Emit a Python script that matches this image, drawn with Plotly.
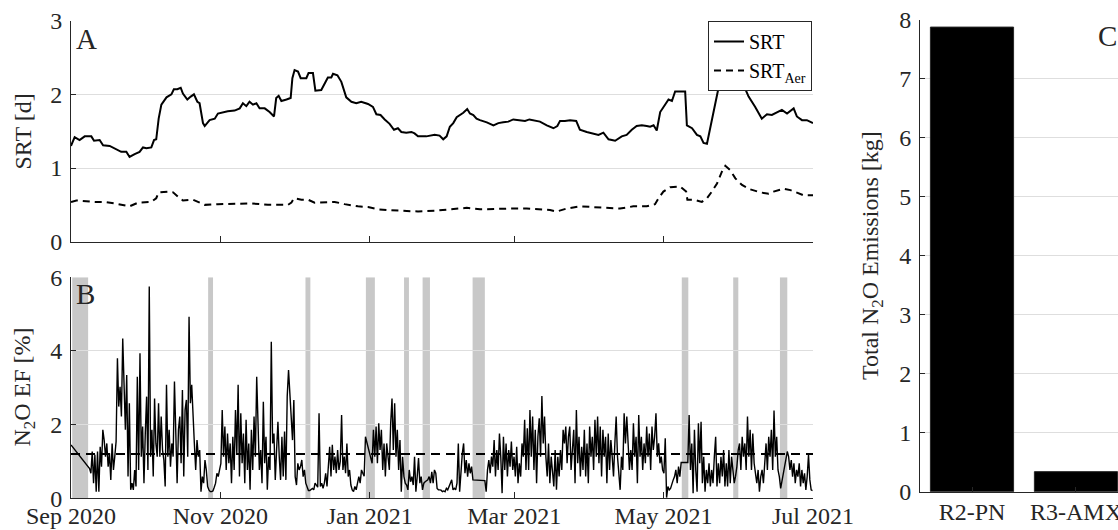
import plotly.graph_objects as go
import pandas as pd

# ---------------- data ----------------
START = "2020-09-01"
END = "2021-07-01"

# Panel A: SRT [d]  (day offset from 1 Sep 2020, value)
srt_points = [
    (0, 1.30), (1.5, 1.42), (3.5, 1.38), (5.6, 1.43), (8.3, 1.43), (9.4, 1.37), (11.7, 1.38), (13.1, 1.31),
    (15.8, 1.30), (18.5, 1.26), (20.5, 1.22), (22.6, 1.22), (23.9, 1.15), (26, 1.19), (28, 1.22), (29.4, 1.28),
    (30.8, 1.27), (32.8, 1.28), (33.9, 1.38), (34.8, 1.39), (35.8, 1.67), (36.9, 1.86), (39, 1.96), (41, 2.00),
    (42, 2.07), (43.4, 2.07), (44.8, 2.09), (45.7, 2.01), (47.5, 1.93), (48.9, 1.97), (50.2, 2.00), (51.6, 1.90),
    (52.5, 1.88), (53.9, 1.61), (54.6, 1.57), (56.6, 1.65), (58.7, 1.67), (60, 1.74), (62, 1.76), (64, 1.77),
    (66.8, 1.78), (68.9, 1.81), (70.2, 1.88), (71.6, 1.84), (72.9, 1.90), (74.3, 1.86), (75.7, 1.88), (77, 1.81),
    (79.1, 1.81), (81.1, 1.76), (82.9, 1.70), (83.8, 1.95), (84.8, 1.98), (85.9, 1.91), (88, 1.93), (89.7, 1.95),
    (90.4, 2.22), (91.3, 2.33), (92.7, 2.31), (93.8, 2.22), (96.1, 2.22), (97, 2.29), (98.8, 2.29), (99.8, 2.05),
    (102.2, 2.06), (103.6, 2.15), (104.9, 2.23), (106.3, 2.23), (107, 2.28), (108.8, 2.26), (110.4, 2.17),
    (112.4, 1.96), (114.5, 1.90), (116.5, 1.88), (118.5, 1.90), (121.3, 1.87), (123.3, 1.83), (124.7, 1.73),
    (126.4, 1.72), (128.1, 1.66), (130.1, 1.60), (131.9, 1.52), (133.5, 1.54), (134.9, 1.49), (136.9, 1.48),
    (139, 1.49), (140.3, 1.47), (141.7, 1.43), (145.1, 1.43), (148.5, 1.45), (150.5, 1.44), (152, 1.39),
    (153.4, 1.43), (154.7, 1.56), (156.1, 1.61), (157.5, 1.69), (158.8, 1.72), (160.2, 1.75), (161.8, 1.80),
    (162.9, 1.74), (164.3, 1.72), (165.6, 1.67), (167, 1.65), (169.8, 1.62), (172.5, 1.58), (174.5, 1.61),
    (176.5, 1.62), (178.6, 1.63), (180.6, 1.66), (183.4, 1.65), (185.4, 1.64), (187.2, 1.66), (189.5, 1.64),
    (191.5, 1.63), (194.3, 1.58), (197, 1.54), (198.6, 1.57), (199.7, 1.64), (201.7, 1.64), (203.8, 1.65),
    (206.3, 1.64), (207.8, 1.52), (210.6, 1.49), (213.3, 1.47), (215.4, 1.45), (217.4, 1.48), (219.5, 1.39),
    (222.2, 1.37), (224.9, 1.43), (226.9, 1.45), (229, 1.52), (231, 1.57), (233.1, 1.58), (235.1, 1.57),
    (236.5, 1.56), (237.9, 1.58), (239.2, 1.51), (240.6, 1.76), (242.2, 1.84), (244, 1.93), (245.4, 1.91),
    (246.7, 2.04), (250.8, 2.04), (251.5, 1.58), (253.6, 1.54), (255.6, 1.45), (257, 1.43), (258.3, 1.34),
    (259.7, 1.33), (261.7, 1.67), (263.8, 2.01), (265, 2.18), (266.5, 2.35), (268, 2.45), (270, 2.42),
    (272, 2.30), (274.6, 2.13), (276.7, 1.97), (279.4, 1.83), (282.1, 1.67), (284.2, 1.73), (286.2, 1.72),
    (288.3, 1.76), (290.3, 1.79), (292.4, 1.74), (295.1, 1.81), (296.4, 1.70), (298.5, 1.65), (300.5, 1.65),
    (303, 1.61),
]

# Panel A: SRT_Aer [d]
aer_points = [
    (0, 0.54), (2.2, 0.56), (9.7, 0.54), (13.8, 0.54), (17.8, 0.52), (20.5, 0.50), (23.9, 0.48), (27.4, 0.53),
    (31.4, 0.53), (32.8, 0.54), (34.8, 0.59), (35.8, 0.67), (39.6, 0.68), (41.7, 0.67), (43.7, 0.61), (45.7, 0.56),
    (49.8, 0.57), (52.5, 0.53), (54.6, 0.50), (60, 0.51), (66.8, 0.51), (73.6, 0.52), (80.4, 0.50), (84.5, 0.50),
    (88.6, 0.50), (90, 0.53), (91, 0.59), (94.1, 0.57), (96.8, 0.57), (99.5, 0.53), (104.9, 0.53), (107.7, 0.54),
    (111.7, 0.51), (117.2, 0.48), (121.3, 0.47), (125.4, 0.44), (129.4, 0.43), (134.9, 0.42), (141.7, 0.41),
    (148.5, 0.42), (152, 0.43), (156.1, 0.44), (161.6, 0.46), (167, 0.44), (173.8, 0.45), (180.6, 0.45),
    (186.1, 0.45), (191.5, 0.44), (195.6, 0.43), (198.3, 0.41), (202.4, 0.45), (207.8, 0.48), (213.3, 0.47),
    (218.7, 0.45), (224.2, 0.45), (229.6, 0.48), (235.1, 0.48), (238.5, 0.51), (239.9, 0.59), (241.9, 0.68),
    (244.7, 0.74), (248.7, 0.75), (251.2, 0.68), (251.7, 0.57), (254.2, 0.57), (257.6, 0.54), (259.7, 0.59),
    (261.7, 0.68), (263.8, 0.79), (265.8, 0.95), (267.2, 1.03), (269.2, 0.97), (271.3, 0.86), (274, 0.77),
    (277.4, 0.71), (281.5, 0.67), (284.9, 0.65), (286.9, 0.68), (291, 0.72), (293.8, 0.70), (296.4, 0.67),
    (299.2, 0.63), (303, 0.63),
]

# Panel B: N2O emission factor [%], one reading every 13 h from 1 Sep 2020 (None = no data)
ef_step_hours = 13
ef_values = (
    [1.45] + [None] * 13 +
    [0.81, 0.68, 1.27, 0.41, 1.18, 0.18, 1.27, 0.18, 1.40, 0.86, 1.86, 1.58, 1.13, 1.49, 0.86, 1.22, 0.50,
     1.49, 0.77, 1.13, 1.54, 3.80, 2.49, 3.03, 2.22, 4.34, 2.67, 1.86, 3.35, 0.59, 2.58, 0.23, 0.41, 0.23,
     0.77, 0.32, 3.30, 0.77, 3.94, 1.13, 1.95, 0.41, 1.76, 2.76, 0.77, 5.75, 1.13, 1.86, 0.59, 2.71, 1.49,
     1.13, 2.58, 1.13, 2.22, 1.31, 1.04, 0.32, 3.08, 1.13, 1.86, 0.86, 1.49, 1.13, 3.17, 1.40, 0.41, 1.86,
     2.22, 0.95, 2.94, 0.59, 2.40, 2.67, 1.13, 4.93, 2.58, 3.08, 2.13, 1.49, 0.77, 1.58, 1.13, 1.31, 0.18,
     0.59, 0.41, 1.04, 0.77, 0.32, 0.23, 0.18, 0.18, 0.20, 0.30, 0.41, 0.68, 0.59, 0.77, 0.95, 2.40, 1.13,
     1.95, 0.77, 1.76, 0.95, 1.49, 0.41, 1.67, 0.77, 2.40, 1.22, 3.08, 0.59, 2.31, 0.95, 1.76, 0.41, 2.13,
     0.77, 1.49, 0.23, 1.86, 0.77, 2.22, 1.13, 3.30] +
    [2.31, 0.77, 1.31, 0.41, 2.62, 0.95, 1.67, 0.23, 1.13, 0.77, 4.25, 1.49, 1.76, 0.50, 1.31, 2.08, 1.13,
     0.50, 1.67, 0.59, 1.81, 0.50, 2.76, 3.48] + [None] * 2 +
    [1.58, 2.67, 0.59, 0.36, 0.95, 0.77, 0.86, 1.04, 0.59, 0.77, 0.41, 0.27, 0.21, 0.21, 0.23, 0.27, 0.23,
     0.41, 0.36, 0.30, 2.31, 0.32, 0.41, 0.27, 0.41, 0.68, 0.32, 0.95, 1.40, 0.59, 1.45, 0.77, 1.13, 0.68,
     1.31, 0.77, 1.00, 2.26, 0.77, 1.13, 0.68, 1.49, 0.59, 0.77, 0.36, 0.23, 0.18, 0.32, 0.23, 0.41, 0.59,
     0.41, 0.77, 0.68, 0.60, 1.67] + [None] * 4 +
    [0.95, 1.86, 1.13, 1.95, 0.95, 2.04, 1.31, 1.86, 0.77, 1.49, 0.59, 1.49, 1.13, 0.77, 2.04, 2.71, 1.31,
     2.58, 1.13, 1.86, 0.77, 1.58, 0.18, 1.13, 0.59, 0.41, 0.36, 0.23, 0.77, 0.45, 0.59, 0.36, 1.13, 0.18,
     0.59, 1.09, 0.41, 0.59, 0.23, 0.41, 0.45, 0.48, 0.50, 0.59, 0.41, 0.72, 0.41, 0.77, 0.68, 0.27, 0.23,
     0.23, 0.22, 0.18, 0.20, 0.18, 0.27, 0.23, 0.35, 0.41, 0.50, 0.23, 0.27, 0.23, 0.41, 1.49, 0.18, 0.86,
     1.22, 1.49, 0.68, 1.04, 0.59, 0.95, 0.68, 0.86, 0.50] + [None] * 8 +
    [0.48, 0.18, 0.77, 1.04, 0.68, 1.13, 0.86, 1.58, 0.59, 1.31, 0.77, 1.76, 1.13, 0.14, 1.67, 0.77, 1.49,
     0.59, 1.31, 0.86, 1.54, 0.77, 1.13, 0.59, 1.40, 0.41, 0.95, 0.59, 1.49, 1.13, 2.13, 0.77, 1.90, 0.77,
     2.40, 1.13, 2.22, 0.77, 1.86, 0.41, 1.67, 2.17, 1.13, 2.78, 1.49, 2.22, 1.13, 0.59, 1.49, 0.41, 1.13,
     0.77, 0.32, 1.31, 0.23, 1.13, 0.59, 1.31, 0.77, 1.86, 1.49, 1.95, 0.95, 1.67, 1.95, 0.77, 1.31, 1.86,
     0.41, 2.40, 0.95, 1.67, 0.59, 1.40, 0.77, 1.86, 0.59, 1.49, 0.41, 1.95, 1.13, 1.67, 0.77, 2.13, 1.13,
     2.22, 0.95, 1.95, 0.59, 1.86, 1.13, 1.67, 0.41, 1.76, 0.77, 1.58, 1.13, 0.59, 1.49, 2.22, 1.13, 0.59,
     0.23, 1.13, 0.77, 2.31, 1.49, 2.22, 1.31, 0.77,
     1.31, 0.77, 2.04, 1.13, 1.67, 0.41, 2.26, 1.13, 1.67, 0.77, 1.49, 0.95, 1.95, 1.13, 1.76, 0.77, 1.95,
     1.31, 1.67, 2.31, 1.13, 1.49, 0.95, 1.13, 0.77, 0.68, 1.63, 0.02, 0.32, 0.23, 0.27, 0.41, 0.50, 0.59,
     0.77, 0.41, 0.86, 0.59, 0.97] + [None] * 4 +
    [0.97, 2.26, 0.77, 1.49, 0.14, 1.86, 0.77, 0.18, 2.04, 0.95, 2.08, 0.41, 1.13, 0.18, 0.77, 0.41, 0.95,
     0.32, 0.77, 0.41, 1.13, 1.67, 0.32, 0.95, 0.41, 1.13, 0.59, 1.31, 0.32, 0.95, 0.32, 1.31, 0.41, 1.13,
     0.77, 0.41, 0.60, 0.86, 1.31, 1.49, 0.77, 1.67, 1.13, 1.49, 0.77, 2.22, 1.13, 1.86, 0.77, 1.76, 0.95,
     0.59, 0.41, 0.77, 0.18, 0.59, 0.77, 0.41, 1.13, 1.49, 0.77, 1.67, 1.13, 1.86, 0.77, 2.38, 1.13, 1.67,
     0.77, 0.59, 0.27] + [None] * 4 +
    [1.27, 1.13, 0.77, 1.04, 0.59, 0.95, 0.41, 0.77, 0.59, 0.95, 0.32, 0.77, 0.41, 0.68, 0.23, 0.59, 1.18,
     0.50, 0.23, 0.21]
)
ef_mean = 1.2

# Panel B: shaded periods
band_starts = ["2020-09-01 12:00", "2020-10-27", "2020-12-05 18:00", "2020-12-30 10:00", "2021-01-15",
               "2021-01-22 14:00", "2021-02-12", "2021-05-08 10:00", "2021-05-29 10:00", "2021-06-17 12:00"]
band_ends = ["2020-09-08", "2020-10-29", "2020-12-07 18:00", "2021-01-03 02:00", "2021-01-17",
             "2021-01-25 14:00", "2021-02-17", "2021-05-11 02:00", "2021-05-31 12:00", "2021-06-20 12:00"]

# Panel C
reactors = ["R2-PN", "R3-AMX"]
emissions_kg = [7.88, 0.34]

month_ticks = ["2020-09-01", "2020-11-01", "2021-01-01", "2021-03-01", "2021-05-01", "2021-07-01"]
month_labels = ["Sep 2020", "Nov 2020", "Jan 2021", "Mar 2021", "May 2021", "Jul 2021"]

# ---------------- figure ----------------
t0 = pd.Timestamp(START)


def to_time(days):
    return (t0 + pd.Timedelta(days=days)).round("min")


srt_x = [to_time(d) for d, _ in srt_points]
srt_y = [v for _, v in srt_points]
aer_x = [to_time(d) for d, _ in aer_points]
aer_y = [v for _, v in aer_points]
ef_x = pd.date_range(START, periods=len(ef_values), freq=f"{ef_step_hours}h")

FONT = "Liberation Serif, Times New Roman, serif"
INK = "#262626"
GRID = "#dedede"
FS = 24
W, H = 1118, 530

fig = go.Figure()

fig.add_trace(go.Scatter(x=srt_x, y=srt_y, mode="lines", name="SRT",
                         line=dict(color="black", width=2), xaxis="x", yaxis="y"))
fig.add_trace(go.Scatter(x=aer_x, y=aer_y, mode="lines", name="SRT<sub>Aer</sub>",
                         line=dict(color="black", width=2, dash="7px,5px"), xaxis="x", yaxis="y"))

fig.add_trace(go.Scatter(x=[START, END], y=[ef_mean, ef_mean], mode="lines", showlegend=False,
                         line=dict(color="black", width=2, dash="9px,6px"), xaxis="x2", yaxis="y2"))
fig.add_trace(go.Scatter(x=ef_x, y=ef_values, mode="lines", showlegend=False, connectgaps=True,
                         line=dict(color="black", width=1.4), xaxis="x2", yaxis="y2"))

fig.add_trace(go.Bar(x=reactors, y=emissions_kg, width=0.8, showlegend=False,
                     marker=dict(color="black", line=dict(color=INK, width=1)),
                     xaxis="x3", yaxis="y3"))

for s, e in zip(band_starts, band_ends):
    fig.add_shape(type="rect", xref="x2", yref="y2", x0=s, x1=e, y0=0, y1=6,
                  fillcolor="rgb(200,200,200)", line=dict(width=0), layer="below")


def px(xp):
    return xp / W


def py(yp):
    return 1 - yp / H


tick_font = dict(family=FONT, size=FS, color=INK)
common_x = dict(type="date", range=[START, END], tickmode="array", tickvals=month_ticks,
                ticktext=month_labels, ticks="inside", ticklen=6, tickcolor=INK,
                showline=True, linecolor=INK, linewidth=1, showgrid=False, zeroline=False,
                tickfont=tick_font, automargin=False)
common_y = dict(ticks="inside", ticklen=5, tickcolor=INK, showline=True, linecolor=INK, linewidth=1,
                showgrid=True, gridcolor=GRID, gridwidth=1, zeroline=False, tickfont=tick_font,
                automargin=False, ticklabelstandoff=3)

fig.update_layout(
    width=W, height=H, autosize=False,
    margin=dict(l=0, r=0, t=0, b=0, pad=0),
    paper_bgcolor="white", plot_bgcolor="white",
    font=dict(family=FONT, size=FS, color=INK),
    xaxis=dict(domain=[px(71), px(813)], anchor="y", showticklabels=False, **common_x),
    yaxis=dict(domain=[py(241.7), py(20.7)], anchor="x", range=[0, 3], dtick=1, **common_y),
    xaxis2=dict(domain=[px(71), px(813)], anchor="y2", showticklabels=True, ticklabelstandoff=-4, **common_x),
    yaxis2=dict(domain=[py(498.3), py(277.3)], anchor="x2", range=[0, 6], dtick=2, **common_y),
    xaxis3=dict(domain=[px(920), 1.0], anchor="y3", type="category", range=[-0.5, 1.404],
                ticks="inside", ticklen=5, tickcolor=INK, showline=True, linecolor=INK, linewidth=1,
                showgrid=False, zeroline=False, tickfont=tick_font, ticklabelstandoff=-2, automargin=False),
    yaxis3=dict(domain=[py(491.7), py(20)], anchor="x3", range=[0, 8], dtick=1, **common_y),
    legend=dict(x=px(812), xanchor="right", y=py(21), yanchor="top", bgcolor="white",
                bordercolor=INK, borderwidth=1, font=dict(family=FONT, size=20, color="black"),
                tracegroupgap=0, itemwidth=30),
    showlegend=True,
)

ann = [
    dict(text="A", x=px(74), y=py(39), xanchor="left", yanchor="middle", font=dict(size=29)),
    dict(text="B", x=px(74), y=py(294), xanchor="left", yanchor="middle", font=dict(size=29)),
    dict(text="C", x=px(1096), y=py(36), xanchor="left", yanchor="middle", font=dict(size=29)),
    dict(text="SRT [d]", x=px(22), y=py(131.5), textangle=-90, xanchor="center", yanchor="middle"),
    dict(text="N<sub>2</sub>O EF [%]", x=px(23), y=py(387.5), textangle=-90, xanchor="center", yanchor="middle"),
    dict(text="Total N<sub>2</sub>O Emissions [kg]", x=px(872), y=py(256), textangle=-90,
         xanchor="center", yanchor="middle"),
]
for a in ann:
    a.update(xref="paper", yref="paper", showarrow=False)
    f = dict(family=FONT, size=FS, color=INK)
    f.update(a.get("font", {}))
    a["font"] = f
    fig.add_annotation(**a)

fig.write_html("out.html")
